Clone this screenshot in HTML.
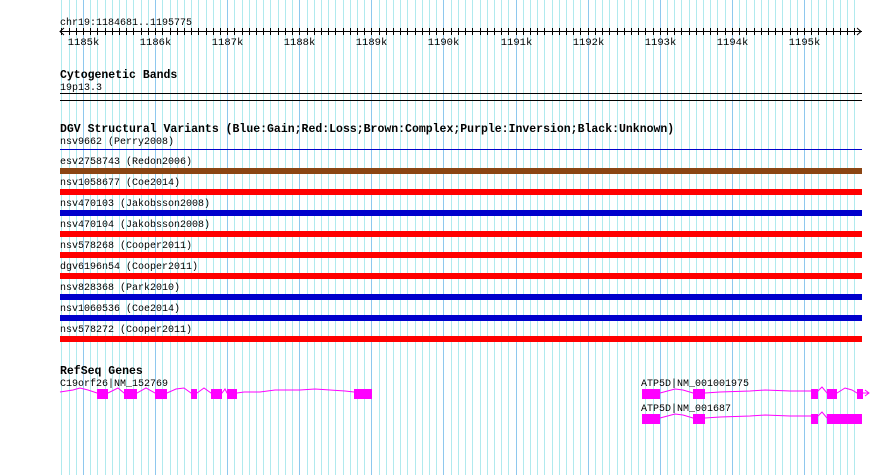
<!DOCTYPE html>
<html><head><meta charset="utf-8"><style>
html,body{margin:0;padding:0;background:#fff;width:890px;height:475px;overflow:hidden}
svg text{font-family:"Liberation Mono",monospace;font-size:10px;fill:#000}
svg text.b{font-weight:bold;font-size:11.5px}
svg text.k{font-size:10.5px}
</style></head><body>
<svg id="s" width="890" height="475" xmlns="http://www.w3.org/2000/svg">
<g id="grid"></g>
<g id="ticks"></g>
<text x="60" y="25">chr19:1184681..1195775</text>
<line x1="60" y1="31.5" x2="862" y2="31.5" stroke="#000"/>
<polyline points="64,28 60,31.5 64,35" fill="none" stroke="#000"/>
<polyline points="857,28 861,31.5 857,35" fill="none" stroke="#000"/>
<text class="b" x="60" y="78">Cytogenetic Bands</text>
<text x="60" y="90">19p13.3</text>
<rect x="60" y="93" width="802" height="1" fill="#000"/>
<rect x="60" y="100" width="802" height="1" fill="#000"/>
<text class="b" x="60" y="132">DGV Structural Variants (Blue:Gain;Red:Loss;Brown:Complex;Purple:Inversion;Black:Unknown)</text>
<text x="60" y="144">nsv9662 (Perry2008)</text>
<rect x="60" y="149" width="802" height="1" fill="#0000cc"/>
<g id="dgv"></g>
<text class="b" x="60" y="374">RefSeq Genes</text>
<text x="60" y="386">C19orf26|NM_152769</text>
<polyline points="60,392 73,390 80,388 88,390 97,393 108,393 118,388 124,393 137,393 146,388 155,393 167,393 176,389 184,388 191,393 197,393 204,388 211,393 222,393 225,389 227,393 237,393 244,392 260,392 275,390 300,390 315,389 330,390 345,391 354,392" fill="none" stroke="#f0f" stroke-width="1"/>
<g fill="#f0f">
<rect x="97" y="389" width="11" height="10"/><rect x="124" y="389" width="13" height="10"/><rect x="155" y="389" width="12" height="10"/><rect x="191" y="389" width="6" height="10"/><rect x="211" y="389" width="11" height="10"/><rect x="227" y="389" width="10" height="10"/><rect x="354" y="389" width="18" height="10"/>
<rect x="642" y="389" width="18" height="10"/><rect x="693" y="389" width="12" height="10"/><rect x="811" y="389" width="7" height="10"/><rect x="827" y="389" width="10" height="10"/><rect x="857" y="389" width="6" height="10"/>
<rect x="642" y="414" width="18" height="10"/><rect x="693" y="414" width="12" height="10"/><rect x="811" y="414" width="7" height="10"/><rect x="827" y="414" width="35" height="10"/>
</g>
<polyline points="660,393 675,389 683,390 693,393 705,393 720,392 750,391 765,390 790,391 811,391 818,391 822,387 827,393 837,393 845,388 852,390 857,393 863,393 869,393" fill="none" stroke="#f0f"/>
<polyline points="865,390 869,393 865,396" fill="none" stroke="#f0f"/>
<polyline points="660,418 675,414 683,415 693,418 705,418 720,417 750,416 765,415 790,416 811,416 818,416 822,412 827,418" fill="none" stroke="#f0f"/>
<text x="641" y="386">ATP5D|NM_001001975</text>
<text x="641" y="411">ATP5D|NM_001687</text>
</svg>
<script>
var NS="http://www.w3.org/2000/svg";
function el(p,t,a){var e=document.createElementNS(NS,t);for(var k in a)e.setAttribute(k,a[k]);p.appendChild(e);return e;}
var g=document.getElementById("grid"),tk=document.getElementById("ticks");
var x0=60,sc=72.1/1000,start=1184681;
for(var bp=1184700;bp<=1195775;bp+=100){
 var x=Math.round(x0+(bp-start)*sc)+0.5;
 var maj=bp%1000==0;
 el(g,"line",{x1:x,y1:0,x2:x,y2:475,stroke:maj?"#8ec8ee":"#b0eaee","stroke-width":1});
 el(tk,"line",{x1:x,y1:28,x2:x,y2:35,stroke:"#000"});
 if(maj){var t=el(tk,"text",{x:x,y:45,"text-anchor":"middle","class":"k"});t.textContent=(bp/1000)+"k";}
}
var rows=[["esv2758743 (Redon2006)","#8b4513"],["nsv1058677 (Coe2014)","#f00"],["nsv470103 (Jakobsson2008)","#00c"],["nsv470104 (Jakobsson2008)","#f00"],["nsv578268 (Cooper2011)","#f00"],["dgv6196n54 (Cooper2011)","#f00"],["nsv828368 (Park2010)","#00c"],["nsv1060536 (Coe2014)","#00c"],["nsv578272 (Cooper2011)","#f00"]];
var d=document.getElementById("dgv");
rows.forEach(function(r,i){var y=164+i*21;var t=el(d,"text",{x:60,y:y});t.textContent=r[0];el(d,"rect",{x:60,y:y+4,width:802,height:6,fill:r[1]});});
</script>
</body></html>
